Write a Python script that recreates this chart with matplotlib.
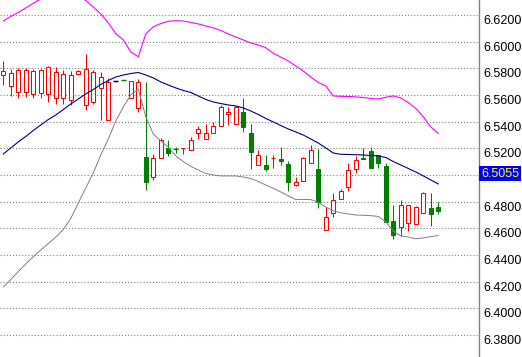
import numpy as np
import matplotlib
matplotlib.use('Agg')
import matplotlib.pyplot as plt
import matplotlib.transforms as mtransforms
from matplotlib.patches import Rectangle

# 蜡烛数据
opens = [6.5748, 6.5665, 6.5620, 6.5625, 6.5610, 6.5613, 6.5605, 6.5580, 6.5575, 6.5560,
         6.5755, 6.5525, 6.5545, 6.5650, 6.5410, 6.5707, 6.5710, 6.5574, 6.5500, 6.5137,
         6.4987, 6.5125, 6.5205, 6.5196, 6.5204, 6.5188, 6.5313, 6.5268, 6.5313, 6.5367,
         6.5455, 6.5383, 6.5470, 6.5313, 6.5075, 6.5075, 6.5129, 6.5120, 6.5083, 6.4923,
         6.4957, 6.5088, 6.5045, 6.4588, 6.4715, 6.4823, 6.4913, 6.5047, 6.5125, 6.5180,
         6.5150, 6.5070, 6.4657, 6.4612, 6.4638, 6.4630, 6.4713, 6.4750, 6.4760]
closes = [6.5778, 6.5763, 6.5788, 6.5788, 6.5780, 6.5788, 6.5810, 6.5770, 6.5755, 6.5748,
          6.5778, 6.5793, 6.5770, 6.5733, 6.5695, 6.5707, 6.5709, 6.5703, 6.5700, 6.4950,
          6.5130, 6.5262, 6.5163, 6.5194, 6.5205, 6.5263, 6.5347, 6.5313, 6.5365, 6.5508,
          6.5475, 6.5508, 6.5362, 6.5175, 6.5150, 6.5045, 6.5130, 6.5107, 6.4945, 6.4945,
          6.5127, 6.5185, 6.4795, 6.4683, 6.4810, 6.4878, 6.5035, 6.5113, 6.5118, 6.5055,
          6.5088, 6.4650, 6.4548, 6.4773, 6.4773, 6.4758, 6.4863, 6.4705, 6.4732]
highs = [6.5855, 6.5793, 6.5800, 6.5800, 6.5795, 6.5795, 6.5818, 6.5812, 6.5788, 6.5780,
         6.5788, 6.5907, 6.5788, 6.5770, 6.5725, 6.5707, 6.5710, 6.5705, 6.5718, 6.5700,
         6.5155, 6.5280, 6.5263, 6.5213, 6.5206, 6.5283, 6.5367, 6.5383, 6.5400, 6.5527,
         6.5508, 6.5517, 6.5575, 6.5380, 6.5188, 6.5150, 6.5150, 6.5213, 6.5105, 6.4983,
         6.5137, 6.5223, 6.5193, 6.4758, 6.4863, 6.4893, 6.5088, 6.5143, 6.5200, 6.5213,
         6.5150, 6.5088, 6.4775, 6.4810, 6.4773, 6.4770, 6.4875, 6.4868, 6.4800]
lows = [6.5673, 6.5590, 6.5575, 6.5587, 6.5575, 6.5575, 6.5545, 6.5530, 6.5530, 6.5525,
        6.5750, 6.5488, 6.5530, 6.5413, 6.5410, 6.5707, 6.5709, 6.5574, 6.5475, 6.4888,
        6.4963, 6.5125, 6.5142, 6.5163, 6.5155, 6.5188, 6.5268, 6.5268, 6.5313, 6.5367,
        6.5375, 6.5383, 6.5325, 6.5043, 6.5075, 6.5030, 6.5050, 6.5075, 6.4882, 6.4917,
        6.4957, 6.5088, 6.4750, 6.4588, 6.4688, 6.4823, 6.4880, 6.5013, 6.5118, 6.5055,
        6.5055, 6.4650, 6.4518, 6.4542, 6.4582, 6.4630, 6.4713, 6.4620, 6.4705]

# 布林带
upper = [6.6155, 6.6189, 6.6219, 6.6253, 6.6288, 6.6320, 6.6350, 6.6365, 6.6373, 6.6365,
         6.6343, 6.6309, 6.6260, 6.6208, 6.6140, 6.6061, 6.6013, 6.5923, 6.5887, 6.6058,
         6.6112, 6.6136, 6.6153, 6.6157, 6.6155, 6.6144, 6.6133, 6.6118, 6.6103, 6.6084,
         6.6058, 6.6035, 6.6013, 6.5990, 6.5975, 6.5955, 6.5913, 6.5885, 6.5855, 6.5818,
         6.5780, 6.5735, 6.5694, 6.5668, 6.5593, 6.5590, 6.5589, 6.5586, 6.5581, 6.5574,
         6.5570, 6.5583, 6.5593, 6.5578, 6.5544, 6.5499, 6.5437, 6.5360, 6.5313]
middle = [6.5158, 6.5203, 6.5248, 6.5289, 6.5334, 6.5375, 6.5416, 6.5450, 6.5491, 6.5533,
          6.5570, 6.5608, 6.5641, 6.5679, 6.5709, 6.5735, 6.5750, 6.5761, 6.5769, 6.5750,
          6.5728, 6.5698, 6.5675, 6.5653, 6.5634, 6.5619, 6.5593, 6.5566, 6.5548, 6.5536,
          6.5525, 6.5518, 6.5503, 6.5480, 6.5454, 6.5424, 6.5398, 6.5371, 6.5345, 6.5323,
          6.5300, 6.5270, 6.5240, 6.5203, 6.5165, 6.5155, 6.5154, 6.5152, 6.5150, 6.5146,
          6.5143, 6.5131, 6.5101, 6.5075, 6.5049, 6.5023, 6.4993, 6.4963, 6.4933]
lower = [6.4160, 6.4216, 6.4276, 6.4333, 6.4387, 6.4438, 6.4486, 6.4535, 6.4591, 6.4674,
         6.4790, 6.4903, 6.5015, 6.5150, 6.5270, 6.5405, 6.5510, 6.5600, 6.5645, 6.5435,
         6.5308, 6.5255, 6.5210, 6.5143, 6.5101, 6.5064, 6.5038, 6.5011, 6.5000, 6.4993,
         6.4993, 6.4993, 6.4985, 6.4974, 6.4951, 6.4925, 6.4900, 6.4873, 6.4843, 6.4816,
         6.4816, 6.4816, 6.4794, 6.4760, 6.4730, 6.4717, 6.4708, 6.4700, 6.4698, 6.4695,
         6.4689, 6.4648, 6.4580, 6.4543, 6.4535, 6.4522, 6.4528, 6.4538, 6.4546]

ytick_vals = [6.62, 6.60, 6.58, 6.56, 6.54, 6.52, 6.50, 6.48, 6.46, 6.44, 6.42, 6.40, 6.38]
ytick_labels = ['6.6200', '6.6000', '6.5800', '6.5600', '6.5400', '6.5200', '',
                '6.4800', '6.4600', '6.4400', '6.4200', '6.4000', '6.3800']
last_price = 6.5055

fig = plt.figure(figsize=(5.22, 3.57), dpi=100)
ax = fig.add_axes([0, 0, 479 / 522, 1])
ax.set_xlim(-0.44, 63.43)
ax.set_ylim(6.3635, 6.63125)

# 网格
for v in ytick_vals:
    ax.axhline(v, color='#808080', lw=0.8, ls=(0, (1, 1.8)), zorder=0)

lw = 0.75
w = 0.55
for i in range(len(opens)):
    o, c, h, l = opens[i], closes[i], highs[i], lows[i]
    if c > o:
        col = '#ff0000'
    elif c < o:
        col = '#008000'
    else:
        col = '#000000'
    if h > l:
        ax.vlines(i, l, h, color=col, lw=lw, zorder=2)
    bot = min(o, c)
    hgt = abs(c - o)
    if col == '#ff0000':
        ax.add_patch(Rectangle((i - w / 2, bot), w, hgt, fc='white', ec=col, lw=lw, zorder=3))
    elif hgt < 0.0003:
        ax.hlines(o, i - w / 2 - 0.07, i + w / 2 + 0.07, color=col, lw=lw + 0.3, zorder=3)
    else:
        ax.add_patch(Rectangle((i - w / 2, bot), w, hgt, fc=col, ec=col, lw=lw, zorder=3))

x = np.arange(len(upper))
ax.plot(x, upper, color='#ff00ff', lw=0.8, zorder=4)
ax.plot(x, middle, color='#000080', lw=0.8, zorder=4)
ax.plot(x, lower, color='#808080', lw=0.7, zorder=4)

for s in ['top', 'left', 'bottom']:
    ax.spines[s].set_visible(False)
ax.spines['right'].set_color('#808080')
ax.spines['right'].set_linewidth(1.0)
ax.set_xticks([])
ax.yaxis.tick_right()
ax.set_yticks(ytick_vals)
ax.set_yticklabels(ytick_labels, family='Liberation Sans', fontsize=9, va='top')
ax.tick_params(axis='y', length=0, pad=3)

tr = mtransforms.blended_transform_factory(ax.transAxes, ax.transData)
ax.text(1.004, last_price, '%.4f' % last_price, transform=tr, va='top', ha='left',
        family='Liberation Sans', fontsize=9, color='#ffff00',
        bbox=dict(fc='#0000ff', ec='none', pad=1.2), clip_on=False)

plt.savefig('out.png', dpi=100)
